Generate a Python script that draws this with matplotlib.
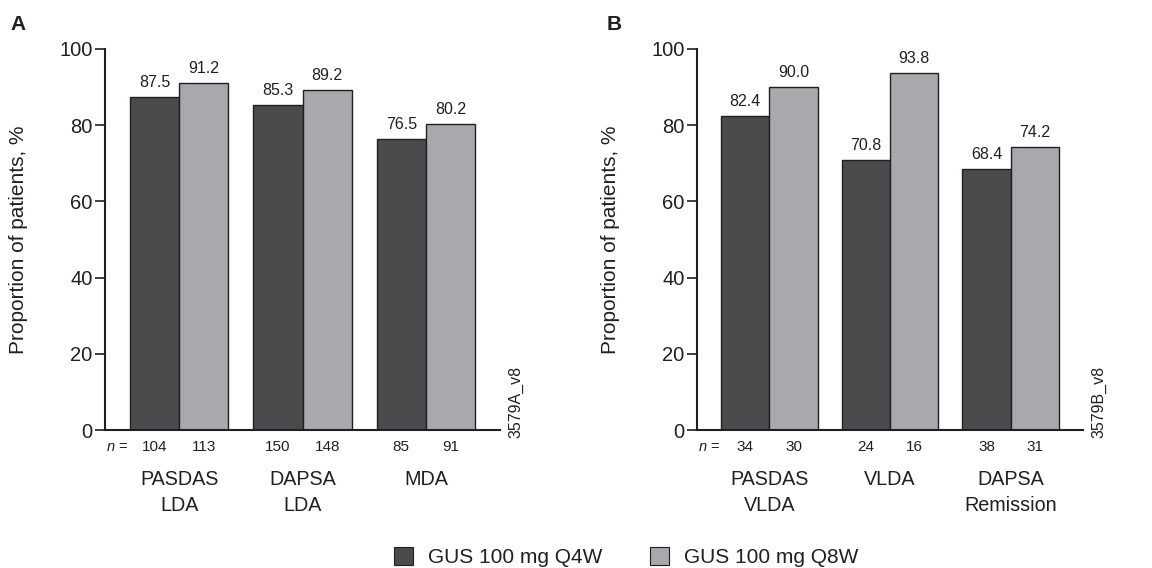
import matplotlib
matplotlib.use("Agg")
import matplotlib.pyplot as plt
from matplotlib.patches import Patch
import numpy as np

plt.rcParams['font.family'] = ['Liberation Sans', 'DejaVu Sans']
plt.rcParams['mathtext.fontset'] = 'custom'
plt.rcParams['mathtext.it'] = 'Liberation Sans:italic'
plt.rcParams['mathtext.rm'] = 'Liberation Sans'

# Data
cats_a = ["PASDAS\nLDA", "DAPSA\nLDA", "MDA"]
q4w_a = [87.5, 85.3, 76.5]
q8w_a = [91.2, 89.2, 80.2]
n_q4w_a = [104, 150, 85]
n_q8w_a = [113, 148, 91]

cats_b = ["PASDAS\nVLDA", "VLDA", "DAPSA\nRemission"]
q4w_b = [82.4, 70.8, 68.4]
q8w_b = [90.0, 93.8, 74.2]
n_q4w_b = [34, 24, 38]
n_q8w_b = [30, 16, 31]

series_names = ["GUS 100 mg Q4W", "GUS 100 mg Q8W"]
yticks = [0, 20, 40, 60, 80, 100]

DARK = "#4a4b4d"
LIGHT = "#a7a9ac"
TXT = "#231f20"

W, H = 1152, 568
fig = plt.figure(figsize=(W / 100, H / 100), dpi=100)

def px_axes(x0, x1, ytop, ybot):
    return fig.add_axes([x0 / W, 1 - ybot / H, (x1 - x0) / W, (ybot - ytop) / H])

def panel(ax, cats, q4, q8, n4, n8, code, label_x):
    x = np.arange(len(cats))
    bw = 0.4
    b1 = ax.bar(x - bw / 2, q4, bw, color=DARK, edgecolor=TXT, linewidth=1.0, zorder=2)
    b2 = ax.bar(x + bw / 2, q8, bw, color=LIGHT, edgecolor=TXT, linewidth=1.0, zorder=2)
    ax.bar_label(b1, labels=[f"{v:.1f}" for v in q4], padding=5, fontsize=11.5, color=TXT)
    ax.bar_label(b2, labels=[f"{v:.1f}" for v in q8], padding=5, fontsize=11.5, color=TXT)
    ax.set_xlim(-0.6, 2.6)
    ax.set_ylim(0, 100)
    ax.set_yticks(yticks)
    ax.tick_params(axis='y', length=7, width=1.2, labelsize=14.5, labelcolor=TXT, color=TXT, pad=2)
    ax.set_xticks([])
    for s in ['top', 'right']:
        ax.spines[s].set_visible(False)
    ax.spines['left'].set_linewidth(1.5)
    ax.spines['bottom'].set_linewidth(1.5)
    ax.spines['left'].set_color(TXT)
    ax.spines['bottom'].set_color(TXT)
    ax.set_ylabel("Proportion of patients, %", fontsize=15, color=TXT)
    ax.yaxis.set_label_coords(label_x, 0.5)
    tr = ax.get_xaxis_transform()
    for i in range(len(cats)):
        ax.text(x[i] - bw / 2, -0.045, str(n4[i]), transform=tr, ha='center', va='center',
                fontsize=11, color=TXT)
        ax.text(x[i] + bw / 2, -0.045, str(n8[i]), transform=tr, ha='center', va='center',
                fontsize=11, color=TXT)
        ax.text(x[i], -0.104, cats[i], transform=tr, ha='center', va='top',
                fontsize=14.2, color=TXT, linespacing=1.5)
    ax.text(-0.6 + 0.1, -0.045, r"$n$ =", transform=tr, ha='center', va='center',
            fontsize=10.5, color=TXT)
    ax.text(1.04, -0.02, code, transform=ax.transAxes, rotation=90, ha='center', va='bottom',
            fontsize=11.5, color=TXT)
    return b1, b2

axA = px_axes(105, 500, 49, 430)
axB = px_axes(697, 1083, 49, 430)
panel(axA, cats_a, q4w_a, q8w_a, n_q4w_a, n_q8w_a, "3579A_v8", -77 / 395)
panel(axB, cats_b, q4w_b, q8w_b, n_q4w_b, n_q8w_b, "3579B_v8", -77 / 386)

fig.text(18 / W, 1 - 25 / H, "A", fontsize=15, fontweight='bold', ha='center', va='center', color=TXT)
fig.text(614 / W, 1 - 25 / H, "B", fontsize=15, fontweight='bold', ha='center', va='center', color=TXT)

handles = [Patch(facecolor=DARK, edgecolor=TXT, linewidth=0.8),
           Patch(facecolor=LIGHT, edgecolor=TXT, linewidth=0.8)]
fig.legend(handles, series_names, loc='center', bbox_to_anchor=(626 / W, 1 - 557 / H), ncol=2,
           frameon=False, fontsize=15, handlelength=0.92, handleheight=0.92, handletextpad=0.72,
           columnspacing=2.3, labelcolor=TXT, borderpad=0.2)

fig.savefig("out.png", dpi=100)
